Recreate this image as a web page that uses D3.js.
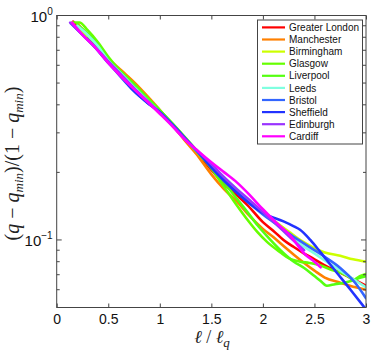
<!DOCTYPE html>
<html lang="en">
<head>
<meta charset="utf-8">
<title>Normalised q vs l/lq</title>
<style>
  body { margin: 0; background: #fff; }
  .tick text { font-family: "Liberation Sans", Arial, sans-serif; font-size: 14px; fill: #111; }
  .tick line { stroke: #444; }
  .legend text { font-family: "Liberation Sans", Arial, sans-serif; font-size: 10px; fill: #111; }
</style>
<script src="https://d3js.org/d3.v7.min.js"></script>
</head>
<body>
<script>
// ---- data ----
const cities = ["Greater London", "Manchester", "Birmingham", "Glasgow", "Liverpool",
                "Leeds", "Bristol", "Sheffield", "Edinburgh", "Cardiff"];
const colors = ["#ff0000", "#ff8000", "#ccff00", "#66ff00", "#55ff11",
                "#80ffe0", "#3366ff", "#2233ff", "#9933ff", "#ff00ff"];
const xTicks = [0, 0.5, 1, 1.5, 2, 2.5, 3];

const greaterLondon = [[0.16,0.94],[0.25,0.84],[0.375,0.74],[0.5,0.635],[0.625,0.555],[0.75,0.49],[0.875,0.43],[1.0,0.375],[1.125,0.322],[1.25,0.278],[1.375,0.24],[1.5,0.205],[1.625,0.178],[1.75,0.158],[1.85,0.143],[2.0,0.12],[2.1,0.11],[2.2,0.1],[2.3,0.093],[2.4,0.087],[2.5,0.082],[2.6,0.077],[2.75,0.0715],[2.9,0.066],[3.0,0.0625]];
const manchester = [[0.2,0.92],[0.3,0.82],[0.4,0.73],[0.5,0.645],[0.625,0.57],[0.75,0.505],[0.875,0.44],[1.0,0.38],[1.125,0.325],[1.25,0.275],[1.35,0.243],[1.5,0.196],[1.625,0.168],[1.75,0.148],[1.85,0.131],[2.0,0.112],[2.1,0.103],[2.2,0.094],[2.3,0.086],[2.4,0.079],[2.5,0.073],[2.6,0.068],[2.75,0.0645],[2.9,0.0615],[3.0,0.060]];
const birmingham = [[0.17,0.9],[0.25,0.84],[0.375,0.745],[0.5,0.635],[0.625,0.56],[0.75,0.49],[0.875,0.43],[1.0,0.375],[1.125,0.325],[1.25,0.28],[1.375,0.243],[1.5,0.212],[1.625,0.188],[1.75,0.167],[1.875,0.148],[2.0,0.132],[2.125,0.12],[2.25,0.109],[2.375,0.099],[2.5,0.092],[2.6,0.088],[2.75,0.085],[2.875,0.082],[3.0,0.080]];
const glasgow = [[0.15,0.93],[0.22,0.93],[0.3,0.86],[0.4,0.76],[0.5,0.655],[0.625,0.56],[0.75,0.49],[0.875,0.43],[1.0,0.378],[1.125,0.33],[1.25,0.285],[1.375,0.245],[1.5,0.208],[1.625,0.172],[1.75,0.142],[1.85,0.123],[1.95,0.108],[2.04,0.098],[2.17,0.088],[2.25,0.083],[2.36,0.080],[2.45,0.079],[2.56,0.077],[2.65,0.074],[2.75,0.0715],[2.82,0.069],[2.88,0.0665],[2.94,0.069],[3.0,0.0705]];
const liverpool = [[0.2,0.91],[0.3,0.83],[0.4,0.74],[0.5,0.64],[0.625,0.56],[0.75,0.495],[0.875,0.432],[1.0,0.378],[1.125,0.328],[1.25,0.283],[1.375,0.243],[1.5,0.21],[1.625,0.18],[1.75,0.152],[1.85,0.133],[1.95,0.116],[2.04,0.104],[2.17,0.09],[2.3,0.08],[2.4,0.075],[2.5,0.069],[2.56,0.0656],[2.62,0.0625],[2.7,0.0635],[2.79,0.0645],[2.87,0.066],[2.95,0.068],[3.0,0.069]];
const leeds = [[0.2,0.9],[0.3,0.82],[0.4,0.73],[0.5,0.63],[0.625,0.55],[0.75,0.48],[0.875,0.42],[1.0,0.37],[1.125,0.322],[1.25,0.28],[1.375,0.245],[1.5,0.215],[1.625,0.19],[1.75,0.168],[1.875,0.148],[2.0,0.132],[2.125,0.118],[2.25,0.105],[2.375,0.095],[2.5,0.087],[2.6,0.081],[2.75,0.073],[2.875,0.067],[3.0,0.0615]];
const bristol = [[0.14,0.92],[0.25,0.82],[0.375,0.72],[0.5,0.62],[0.625,0.53],[0.75,0.46],[0.875,0.41],[1.0,0.37],[1.125,0.325],[1.25,0.28],[1.375,0.245],[1.5,0.212],[1.625,0.185],[1.75,0.163],[1.875,0.145],[2.0,0.13],[2.125,0.118],[2.25,0.107],[2.375,0.098],[2.5,0.09],[2.6,0.084],[2.75,0.075],[2.9,0.064],[3.0,0.055]];
const sheffield = [[0.29,0.79],[0.375,0.72],[0.5,0.615],[0.625,0.535],[0.75,0.46],[0.875,0.41],[1.0,0.372],[1.125,0.326],[1.25,0.283],[1.375,0.245],[1.5,0.21],[1.625,0.183],[1.75,0.162],[1.875,0.145],[2.0,0.132],[2.06,0.128],[2.2,0.121],[2.3,0.115],[2.36,0.111],[2.46,0.100],[2.56,0.088],[2.69,0.074],[2.85,0.060],[3.0,0.049]];
const edinburgh = [[0.13,0.93],[0.25,0.82],[0.375,0.72],[0.5,0.625],[0.625,0.545],[0.75,0.475],[0.875,0.418],[1.0,0.368],[1.125,0.322],[1.25,0.28],[1.375,0.247],[1.5,0.218],[1.625,0.19],[1.75,0.168],[1.875,0.15],[2.0,0.133],[2.125,0.118],[2.25,0.104],[2.4,0.09]];
const cardiff = [[0.15,0.93],[0.25,0.82],[0.375,0.72],[0.5,0.615],[0.625,0.535],[0.75,0.47],[0.875,0.415],[1.0,0.365],[1.125,0.32],[1.25,0.278],[1.375,0.248],[1.5,0.222],[1.625,0.2],[1.75,0.18],[1.875,0.158],[2.0,0.137],[2.125,0.12],[2.27,0.104],[2.4,0.087],[2.5,0.08],[2.56,0.0755]];

const series = [greaterLondon, manchester, birmingham, glasgow, liverpool,
                leeds, bristol, sheffield, edinburgh, cardiff];

// ---- layout ----
const width = 374, height = 350;
const mLeft = 56.7, mRight = 366, mTop = 15.5, mBottom = 307.5;

const svg = d3.select("body").append("svg")
    .attr("width", width)
    .attr("height", height);

const x = d3.scaleLinear().domain([0, 3]).range([mLeft, mRight]);
const y = d3.scaleLog().domain([0.05, 1]).range([mBottom, mTop]);

svg.append("defs").append("clipPath").attr("id", "plotclip")
  .append("rect")
    .attr("x", mLeft).attr("y", mTop)
    .attr("width", mRight - mLeft).attr("height", mBottom - mTop);

// curves
const line = d3.line()
    .x(d => x(d[0]))
    .y(d => y(d[1]))
    .curve(d3.curveMonotoneX);

svg.append("g")
    .attr("clip-path", "url(#plotclip)")
  .selectAll("path")
  .data(series)
  .enter().append("path")
    .attr("d", line)
    .attr("fill", "none")
    .attr("stroke", (d, i) => colors[i])
    .attr("stroke-width", 2.6)
    .attr("stroke-linejoin", "round")
    .attr("stroke-linecap", "round");

// x axis (ticks point inward, mirrored on top)
svg.append("g")
    .attr("transform", `translate(0,${mBottom})`)
    .call(d3.axisBottom(x).tickValues(xTicks).tickSize(-4).tickPadding(7)
          .tickFormat(d3.format("")))
    .call(g => g.select(".domain").remove());
svg.append("g")
    .attr("transform", `translate(0,${mTop})`)
    .call(d3.axisTop(x).tickValues(xTicks).tickSize(-4).tickFormat(""))
    .call(g => g.select(".domain").remove());

// y axis: minor + major ticks on both sides
const minor = [0.06, 0.07, 0.08, 0.09, 0.2, 0.3, 0.4, 0.5, 0.6, 0.7, 0.8, 0.9];
const major = [0.1, 1];
const yTicks = svg.append("g");
[[mLeft, 1], [mRight, -1]].forEach(([x0, dir]) => {
  yTicks.selectAll(null).data(minor).enter().append("line")
      .attr("x1", x0).attr("x2", x0 + dir * 3)
      .attr("y1", d => y(d)).attr("y2", d => y(d))
      .attr("stroke", "#444");
  yTicks.selectAll(null).data(major).enter().append("line")
      .attr("x1", x0).attr("x2", x0 + dir * 5)
      .attr("y1", d => y(d)).attr("y2", d => y(d))
      .attr("stroke", "#444");
});
const yLab = yTicks.selectAll(null).data(major).enter().append("text")
    .attr("x", mLeft - 4)
    .attr("y", d => y(d) + 6)
    .attr("text-anchor", "end")
    .style("font-family", "'Liberation Sans', Arial, sans-serif")
    .style("font-size", "15px")
    .attr("fill", "#111");
yLab.append("tspan").text("10");
yLab.append("tspan").attr("dy", -7).style("font-size", "10px")
    .text(d => d === 1 ? "0" : "\u22121");

// frame
svg.append("rect")
    .attr("x", mLeft).attr("y", mTop)
    .attr("width", mRight - mLeft).attr("height", mBottom - mTop)
    .attr("fill", "none")
    .attr("stroke", "#444")
    .attr("stroke-width", 1);

// axis titles
const serif = "'Liberation Serif', 'DejaVu Serif', serif";
const xt = svg.append("text")
    .attr("x", 212)
    .attr("y", 343)
    .attr("text-anchor", "middle")
    .style("font-family", serif)
    .style("font-size", "18px")
    .attr("fill", "#222");
xt.append("tspan").style("font-style", "italic").text("\u2113");
xt.append("tspan").text(" / ");
xt.append("tspan").style("font-style", "italic").text("\u2113");
xt.append("tspan").attr("dy", 4).style("font-size", "13px").style("font-style", "italic").text("q");

const yt = svg.append("text")
    .attr("transform", `translate(19,${(mTop + mBottom) / 2 + 2}) rotate(-90)`)
    .attr("text-anchor", "middle")
    .style("font-family", serif)
    .style("font-size", "20px")
    .attr("fill", "#222");
yt.append("tspan").text("(");
yt.append("tspan").style("font-style", "italic").text("q");
yt.append("tspan").text(" \u2212 ");
yt.append("tspan").style("font-style", "italic").text("q");
yt.append("tspan").attr("dy", 4).style("font-size", "13px").style("font-style", "italic").text("min");
yt.append("tspan").attr("dy", -4).text(")/(1 \u2212 ");
yt.append("tspan").style("font-style", "italic").text("q");
yt.append("tspan").attr("dy", 4).style("font-size", "13px").style("font-style", "italic").text("min");
yt.append("tspan").attr("dy", -4).text(")");

// legend
const lg = svg.append("g").attr("class", "legend");
lg.append("rect")
    .attr("x", 257.5).attr("y", 20)
    .attr("width", 105).attr("height", 124)
    .attr("fill", "#fff")
    .attr("stroke", "#444")
    .attr("stroke-width", 1);
const item = lg.selectAll("g.item").data(cities).enter().append("g")
    .attr("class", "item")
    .attr("transform", (d, i) => `translate(0,${27.4 + i * 12.1})`);
item.append("line")
    .attr("x1", 262).attr("x2", 285)
    .attr("stroke", (d, i) => colors[i])
    .attr("stroke-width", 2.2);
item.append("text")
    .attr("x", 289)
    .attr("y", 3.6)
    .text(d => d);
</script>
</body>
</html>
